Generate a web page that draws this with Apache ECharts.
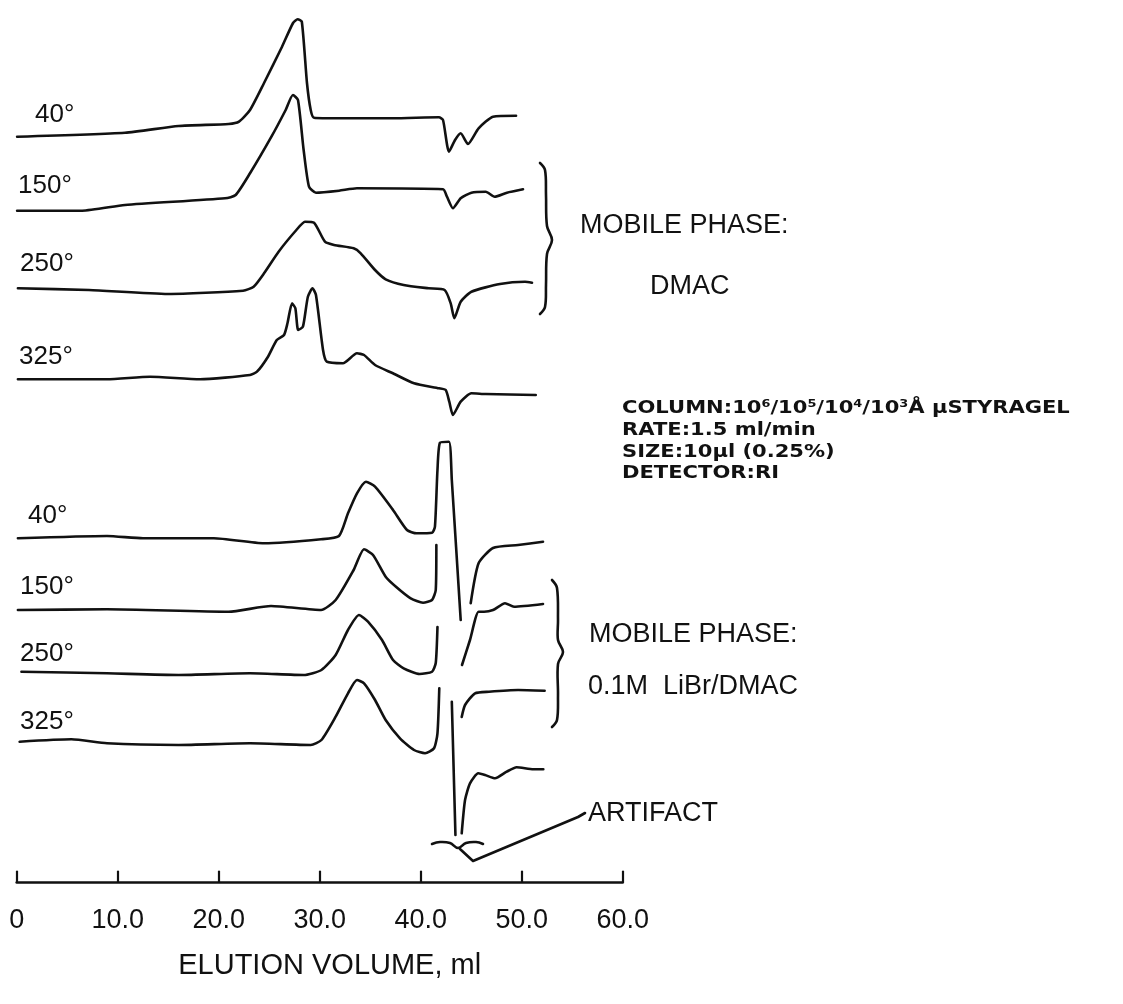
<!DOCTYPE html>
<html><head><meta charset="utf-8">
<script src="https://cdn.jsdelivr.net/npm/echarts@6/dist/echarts.min.js"></script>
<style>html,body{margin:0;padding:0;background:#fff}#c{width:1123px;height:1004px}</style>
</head><body><div id="c"></div>
<script>
// x tick labels (elution volume, ml)
const tickValues = [0, 10, 20, 30, 40, 50, 60];
const tickLabels = ['0', '10.0', '20.0', '30.0', '40.0', '50.0', '60.0'];

// trace labels
const dmacTemps = ['40°', '150°', '250°', '325°'];
const librTemps = ['40°', '150°', '250°', '325°'];

// Mobile phase DMAC, 40°  (volume ml, stacked detector response)
const dmac40Vol  = [0.04,10.72,16.03,20.98,22.01,23.10,24.49,26.27,27.36,27.82,28.23,28.74,29.11,29.44,31.91,37.26,41.81,42.21,42.80,43.40,43.96,44.68,45.73,47.16,49.44];
const dmac40Resp = [746.0,750.0,756.7,758.7,761.0,772.7,799.7,836.0,859.7,863.4,861.0,799.7,772.7,765.0,764.4,764.4,765.4,762.7,731.0,742.7,749.4,738.7,754.4,766.0,767.0];
// DMAC, 150°
const dmac150Vol  = [0.04,6.47,10.72,20.63,21.68,23.10,25.22,26.63,27.35,27.85,28.41,28.94,29.63,31.91,33.69,42.21,42.60,43.19,43.96,45.02,46.44,47.32,48.54,50.13];
const dmac150Resp = [672.0,672.0,677.7,684.4,687.7,709.4,746.0,772.7,787.7,782.7,732.7,696.0,690.0,692.0,694.4,693.4,686.0,674.4,684.4,690.0,691.0,686.0,690.0,693.4];
// DMAC, 250°
const dmac250Vol  = [0.12,7.16,14.98,22.41,23.46,24.49,25.93,27.69,28.54,29.44,30.52,31.42,33.36,34.06,35.48,36.53,38.31,40.78,42.37,42.97,43.33,43.96,45.02,47.85,50.33,51.02];
const dmac250Resp = [594.4,592.7,588.7,592.0,596.0,609.4,631.0,652.7,661.0,660.0,641.0,637.7,634.4,629.4,612.7,603.4,597.7,594.4,592.7,579.4,564.4,581.0,591.0,598.7,601.0,600.0];
// DMAC, 325°
const dmac325Vol  = [0.12,8.94,13.20,18.15,23.10,23.79,24.88,25.75,26.47,26.81,27.26,27.59,27.87,28.34,28.83,29.29,29.63,30.33,30.70,32.30,33.69,34.39,35.48,37.25,39.34,41.81,42.48,42.83,43.19,43.96,45.02,46.44,51.39];
const dmac325Resp = [503.4,503.4,506.0,503.4,507.7,511.0,526.0,542.7,547.7,559.4,579.4,574.4,552.7,556.0,586.0,594.4,587.7,532.7,521.0,519.4,529.4,527.7,517.7,509.4,499.4,494.4,492.7,481.0,467.7,481.0,489.4,488.7,487.7];

// Mobile phase 0.1M LiBr/DMAC, 40°  (null = pen lift)
const libr40Vol  = [0.12,8.94,12.50,19.52,24.49,30.13,31.91,32.80,33.69,34.58,35.48,37.26,38.64,39.60,41.12,41.41,41.66,41.91,42.80,43.08,43.96,null,44.95,45.73,47.16,49.64,52.11];
const libr40Resp = [344.4,346.7,344.4,344.4,339.4,343.4,346.7,369.4,389.4,401.0,396.0,372.7,352.7,349.4,350.0,356.0,412.7,440.0,441.0,402.7,262.7,null,279.4,319.4,334.7,337.7,341.0];
// LiBr, 150°
const libr150Vol  = [0.12,8.94,20.98,25.18,30.13,31.58,33.36,34.39,35.28,36.53,37.55,39.01,40.23,41.12,41.49,41.55,null,44.09,44.88,45.73,46.27,47.16,48.35,49.24,52.11];
const libr150Resp = [272.7,273.4,271.0,276.7,272.7,282.7,312.7,333.4,327.7,306.0,296.0,284.4,280.0,282.7,292.7,337.7,null,217.7,242.7,271.0,271.0,272.7,279.4,276.0,278.7];
// LiBr, 250°
const libr250Vol  = [0.47,8.94,16.03,23.10,28.41,30.17,31.58,32.80,33.89,34.78,36.17,37.26,38.31,39.89,41.12,41.49,41.66,null,44.06,44.39,45.38,46.76,49.64,52.27];
const libr250Resp = [211.0,209.4,207.7,209.4,207.7,212.7,227.7,252.7,267.7,261.0,242.7,222.7,214.4,208.7,211.0,219.7,255.7,null,165.7,177.7,189.4,191.0,192.7,192.0];
// LiBr, 325°
const libr325Vol  = [0.29,5.42,8.94,16.03,23.10,29.11,30.17,31.58,32.80,33.69,34.39,35.48,36.53,37.95,39.34,40.43,41.32,41.66,41.84,null,43.08,43.44,null,44.06,44.39,44.88,45.70,46.37,47.36,48.51,49.50,51.15,52.14];
const libr325Resp = [141.0,143.4,139.4,137.7,139.4,137.7,142.7,166.0,189.4,202.7,199.4,182.7,162.7,144.4,132.7,129.4,134.4,149.4,194.4,null,181.0,47.7,null,49.4,82.7,99.4,109.4,107.7,104.4,111.0,115.4,113.4,113.4];

const traces = [
  ['DMAC 40°', dmac40Vol, dmac40Resp],
  ['DMAC 150°', dmac150Vol, dmac150Resp],
  ['DMAC 250°', dmac250Vol, dmac250Resp],
  ['DMAC 325°', dmac325Vol, dmac325Resp],
  ['LiBr/DMAC 40°', libr40Vol, libr40Resp],
  ['LiBr/DMAC 150°', libr150Vol, libr150Resp],
  ['LiBr/DMAC 250°', libr250Vol, libr250Resp],
  ['LiBr/DMAC 325°', libr325Vol, libr325Resp]
];

const INK = '#111';
const FONT = '"Liberation Sans", Arial, sans-serif';
const BOLDFONT = '"DejaVu Sans", sans-serif';

const chart = echarts.init(document.getElementById('c'), null, {renderer: 'canvas'});

const series = traces.map(([name, vol, resp]) => ({
  name: name,
  type: 'line',
  showSymbol: false,
  smooth: 0.2,
  connectNulls: false,
  silent: true,
  animation: false,
  lineStyle: {color: INK, width: 2.6, cap: 'round', join: 'round'},
  data: vol.map((v, i) => (v === null ? ['-', '-'] : [v, resp[i]]))
}));

function txt(text, x, y, size, weight, family, sx) {
  return {type: 'text', x: x, y: y, scaleX: sx || 1, silent: true,
    style: {text: text, fill: INK, font: (weight || 'normal') + ' ' + size + 'px ' + (family || FONT), textVerticalAlign: 'middle', textAlign: 'left'}};
}

const graphics = [];
// temperature labels (left of each trace)
const dmacLabelPos = [[35, 115], [18, 186], [20, 264], [19, 357]];
const librLabelPos = [[28, 516], [20, 587], [20, 654], [20, 722]];
dmacTemps.forEach((t, i) => graphics.push(txt(t, dmacLabelPos[i][0], dmacLabelPos[i][1], 26)));
librTemps.forEach((t, i) => graphics.push(txt(t, librLabelPos[i][0], librLabelPos[i][1], 26)));

// group annotations
graphics.push(txt('MOBILE PHASE:', 580, 226, 27));
graphics.push(txt('DMAC', 650, 287, 27));
graphics.push(txt('MOBILE PHASE:', 589, 635, 27));
graphics.push(txt('0.1M  LiBr/DMAC', 588, 687, 27));
graphics.push(txt('ARTIFACT', 588, 814, 27));

// conditions block (bold, widely tracked in the original -> horizontal stretch)
const SX = 1.17;
graphics.push({type: 'text', x: 622, y: 408, scaleX: SX, silent: true, style: {
  rich: {
    b: {font: 'bold 18px ' + BOLDFONT, fill: INK},
    s: {font: 'bold 11px ' + BOLDFONT, fill: INK, verticalAlign: 'top', padding: [0, 0, 8, 0]}
  },
  text: '{b|COLUMN:10}{s|6}{b|/10}{s|5}{b|/10}{s|4}{b|/10}{s|3}{b|Å μSTYRAGEL}',
  textVerticalAlign: 'middle'
}});
graphics.push(txt('RATE:1.5 ml/min', 622, 430, 18, 'bold', BOLDFONT, SX));
graphics.push(txt('SIZE:10μl (0.25%)', 622, 452, 18, 'bold', BOLDFONT, SX));
graphics.push(txt('DETECTOR:RI', 622, 473, 18, 'bold', BOLDFONT, SX));

// braces
const braceStyle = {stroke: INK, lineWidth: 2.6, fill: null, lineCap: 'round', lineJoin: 'round'};
graphics.push({type: 'polyline', silent: true, shape: {smooth: 0.35, points: [[540,163],[545,170],[546,195],[547,226],[552,240],[547,254],[546,285],[545,307],[540,314]]}, style: braceStyle});
graphics.push({type: 'polyline', silent: true, shape: {smooth: 0.35, points: [[552,580],[557,588],[558,620],[558,640],[563,652],[558,664],[558,695],[557,720],[552,727]]}, style: braceStyle});
// artifact bracket + pointer
graphics.push({type: 'polyline', silent: true, shape: {smooth: 0.4, points: [[432,844],[440,842],[450,843],[458,848],[466,843],[476,842],[483,844]]}, style: braceStyle});
graphics.push({type: 'polyline', silent: true, shape: {points: [[460,849],[473,861],[578,817],[585,813]]}, style: braceStyle});

chart.setOption({
  backgroundColor: '#fff',
  animation: false,
  grid: {left: 16.7, right: 500.3, top: 0, bottom: 121.3, containLabel: false},
  xAxis: {
    type: 'value', min: 0, max: 60, interval: 10,
    axisLine: {show: true, lineStyle: {color: INK, width: 2.6}},
    axisTick: {show: true, inside: true, length: 12, lineStyle: {color: INK, width: 2.2}},
    splitLine: {show: false},
    axisLabel: {
      color: INK, fontFamily: FONT, fontSize: 27, margin: 38, verticalAlign: 'middle',
      showMinLabel: true, showMaxLabel: true,
      formatter: v => tickLabels[tickValues.indexOf(v)]
    },
    name: 'ELUTION VOLUME, ml', nameLocation: 'middle', nameGap: 69,
    nameTextStyle: {color: INK, fontFamily: FONT, fontSize: 29, padding: [0, 0, 0, 20]}
  },
  yAxis: {type: 'value', min: 0, max: 882.7, show: false},
  series: series,
  graphic: graphics
});
</script></body></html>
